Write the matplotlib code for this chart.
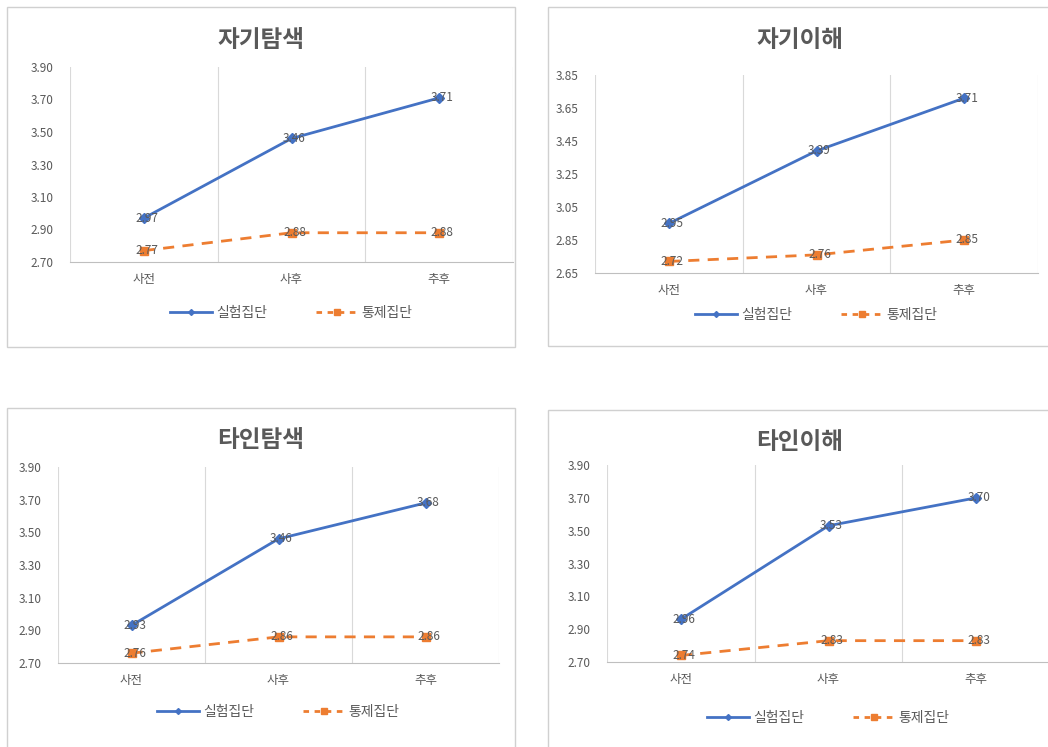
import matplotlib.pyplot as plt
from matplotlib.patches import Rectangle
from matplotlib.lines import Line2D

plt.rcParams['font.family'] = ['Noto Sans CJK KR', 'DejaVu Sans']

# 데이터
구간 = ['사전', '사후', '추후']
제목 = ['자기탐색', '자기이해', '타인탐색', '타인이해']
실험집단 = [
    [2.97, 3.46, 3.71],
    [2.95, 3.39, 3.71],
    [2.93, 3.46, 3.68],
    [2.96, 3.53, 3.70],
]
통제집단 = [
    [2.77, 2.88, 2.88],
    [2.72, 2.76, 2.85],
    [2.76, 2.86, 2.86],
    [2.74, 2.83, 2.83],
]
y범위 = [(2.70, 3.90), (2.65, 3.85), (2.70, 3.90), (2.70, 3.90)]

# 레이아웃 (픽셀)
W, H = 1048, 747
테두리 = [(7, 7, 515, 347), (548, 7, 1052, 346), (7, 408, 515, 752), (548, 410, 1052, 752)]
플롯영역 = [(70, 67, 513, 262), (595, 75, 1038, 273), (58, 467, 499, 663), (607, 465, 1050, 662)]
제목y = [40, 40, 440, 442]
범례y = [313, 315, 712, 718]

파랑 = '#4472C4'
주황 = '#ED7D31'
회색글자 = '#595959'

fig = plt.figure(figsize=(W / 100, H / 100), dpi=100)

for i in range(4):
    l, t, r, b = 테두리[i]
    fig.patches.append(Rectangle((l / W, 1 - b / H), (r - l) / W, (b - t) / H,
                                 transform=fig.transFigure, fill=False,
                                 edgecolor='#D0D0D0', linewidth=1))
    pl, pt, pr, pb = 플롯영역[i]
    ax = fig.add_axes([pl / W, 1 - pb / H, (pr - pl) / W, (pb - pt) / H])
    x = range(len(구간))
    ax.plot(x, 실험집단[i], color=파랑, linewidth=2, marker='D', markersize=5, zorder=3)
    ax.plot(x, 통제집단[i], color=주황, linewidth=2, linestyle=(0, (4, 3)),
            marker='s', markersize=6, zorder=3)
    for xi, v in zip(x, 실험집단[i]):
        ax.text(xi + 0.02, v, f'{v:.2f}', ha='center', va='center', fontsize=8.5, color=회색글자, zorder=4)
    for xi, v in zip(x, 통제집단[i]):
        ax.text(xi + 0.02, v, f'{v:.2f}', ha='center', va='center', fontsize=8.5, color=회색글자, zorder=4)

    lo, hi = y범위[i]
    ax.set_ylim(lo, hi)
    ax.set_yticks([round(lo + 0.2 * k, 2) for k in range(7)])
    ax.set_yticklabels([f'{lo + 0.2 * k:.2f}' for k in range(7)])
    ax.set_xlim(-0.5, 2.5)
    ax.set_xticks(list(x))
    ax.set_xticklabels(구간)
    for gx in [-0.5, 0.5, 1.5, 2.5]:
        ax.axvline(gx, color='#D9D9D9', linewidth=0.8, zorder=1)
    for s in ['top', 'right', 'left']:
        ax.spines[s].set_visible(False)
    ax.spines['bottom'].set_color('#BFBFBF')
    ax.tick_params(length=0, labelsize=8.5, labelcolor=회색글자)
    ax.tick_params(axis='x', pad=8, labelsize=9)
    ax.tick_params(axis='y', pad=12)

    fig.text(((l + r) / 2) / W, 1 - 제목y[i] / H, 제목[i], ha='center', va='center',
             fontsize=17, fontweight='bold', color=회색글자)

    핸들 = [Line2D([], [], color=파랑, linewidth=2, marker='D', markersize=3),
            Line2D([], [], color=주황, linewidth=2, linestyle=(0, (2, 2)), marker='s', markersize=5)]
    fig.legend(핸들, ['실험집단', '통제집단'], loc='center', ncol=2, frameon=False,
               bbox_to_anchor=(((pl + pr) / 2) / W, 1 - 범례y[i] / H),
               fontsize=10, labelcolor=회색글자, handlelength=3, columnspacing=3.5, handletextpad=0.3)

fig.savefig('out.png', dpi=100, facecolor='white')
